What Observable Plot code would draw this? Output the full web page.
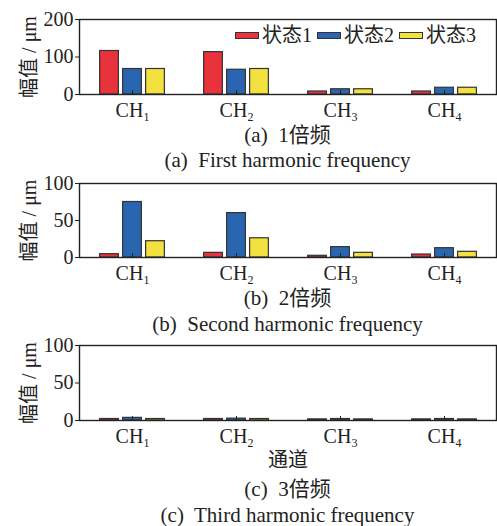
<!DOCTYPE html>
<html><head><meta charset="utf-8">
<script src="https://cdn.jsdelivr.net/npm/d3@7"></script>
<script src="https://cdn.jsdelivr.net/npm/@observablehq/plot@0.6"></script>
<style>
body{margin:0;background:#fff;}
#wrap{position:relative;width:497px;height:526px;font-family:"Liberation Serif","Noto Sans CJK SC",serif;color:#222;}
.panel{position:absolute;left:0;}
.cap{position:absolute;left:79px;width:417px;text-align:center;font-size:21px;line-height:24px;white-space:pre;}
#legend{position:absolute;top:24px;left:235px;font-size:20px;line-height:22px;display:flex;align-items:center;white-space:nowrap;}
#legend .sw{display:inline-block;width:22px;height:5px;border:1px solid #333;margin-right:3px;}
#legend .it{display:flex;align-items:center;margin-right:5px;}
</style>
</head><body>
<div id="wrap"></div>
<script>
const channels = ["CH1", "CH2", "CH3", "CH4"];
const states = ["状态1", "状态2", "状态3"];
const colors = ["#e8323c", "#2a66b0", "#f2e13f"];
// values per state (rows) per channel (cols)
const first = [[116, 113, 8, 8], [68, 66, 14, 18], [68, 68, 14, 18]];
const second = [[4.5, 6.3, 2.3, 4], [75, 60, 14, 12.6], [22, 26, 6.3, 7.7]];
const third = [[2, 2, 1.5, 1.5], [3.5, 2.5, 2, 2], [2, 2, 1.5, 1.5]];
const yTicksA = [0, 100, 200];
const yTicksBC = [0, 50, 100];

const wrap = document.getElementById("wrap");
const FONT = '"Liberation Serif","Noto Sans CJK SC",serif';

function panel(values, yDomain, yTicks, opts) {
  const data = [];
  values.forEach((row, i) => row.forEach((v, j) => data.push({channel: channels[j], state: states[i], si: i, value: v})));
  const bandW = (497 - 79 - 1) / 4;
  const barW = 19, gap = 23;
  const marks = [];
  states.forEach((s, i) => {
    marks.push(Plot.barY(data.filter(d => d.si === i), {
      x: "channel", y: "value", fill: colors[i], stroke: "#333", strokeWidth: 1.2,
      insetLeft: (bandW - barW) / 2, insetRight: (bandW - barW) / 2, dx: (i - 1) * gap
    }));
  });
  marks.push(Plot.axisY({ticks: yTicks, tickSize: 4, tickPadding: 2, fontSize: 20, label: "幅值 / μm", labelAnchor: "center", labelOffset: 58, labelArrow: "none"}));
  marks.push(Plot.axisX({tickSize: -4, tickPadding: 12, fontSize: 20, label: opts.xlabel ?? null, labelAnchor: "center", labelOffset: opts.xlabelOffset ?? 0, labelArrow: "none"}));
  marks.push(Plot.frame({stroke: "#222", strokeWidth: 1.4}));
  const svg = Plot.plot({
    width: 497, height: opts.height, marginLeft: 79, marginRight: 1, marginTop: 19, marginBottom: opts.height - 19 - opts.plotH,
    style: {fontFamily: FONT, fontSize: "20px", color: "#222", background: "transparent", overflow: "visible"},
    x: {domain: channels, padding: 0, label: null},
    y: {domain: yDomain, label: null},
    marks
  });
  svg.classList.add("panel");
  svg.style.top = opts.top + "px";
  // subscripts for channel labels
  svg.querySelectorAll('[aria-label="x-axis tick label"] text').forEach(t => {
    const s = t.textContent;
    t.textContent = "CH";
    const ts = document.createElementNS("http://www.w3.org/2000/svg", "tspan");
    ts.textContent = s.slice(2);
    ts.setAttribute("font-size", "12");
    ts.setAttribute("dy", "4");
    t.appendChild(ts);
  });
  wrap.appendChild(svg);
}

panel(first, [0, 200], yTicksA, {top: 0, height: 122, plotH: 75});
panel(second, [0, 100], yTicksBC, {top: 164, height: 122, plotH: 74});
panel(third, [0, 100], yTicksBC, {top: 326, height: 150, plotH: 75, xlabel: "通道", xlabelOffset: 46});

function cap(text, cy) {
  const d = document.createElement("div");
  d.className = "cap"; d.textContent = text; d.style.top = (cy - 12) + "px";
  wrap.appendChild(d);
}
cap("(a)  1倍频", 135);
cap("(a)  First harmonic frequency", 160);
cap("(b)  2倍频", 298);
cap("(b)  Second harmonic frequency", 324);
cap("(c)  3倍频", 489);
cap("(c)  Third harmonic frequency", 515);

const lg = document.createElement("div");
lg.id = "legend";
states.forEach((s, i) => {
  const it = document.createElement("span"); it.className = "it";
  const sw = document.createElement("span"); sw.className = "sw"; sw.style.background = colors[i];
  it.appendChild(sw); it.appendChild(document.createTextNode(s));
  lg.appendChild(it);
});
wrap.appendChild(lg);
</script>
</body></html>
